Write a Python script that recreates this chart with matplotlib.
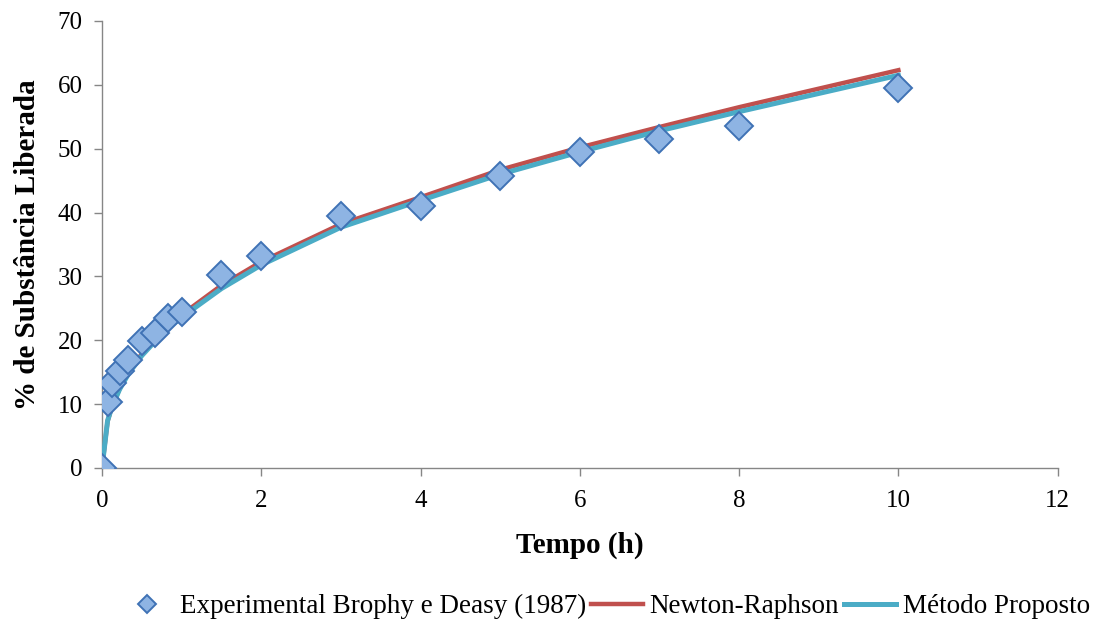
import numpy as np
import matplotlib.pyplot as plt

plt.rcParams['font.family'] = ['Liberation Serif', 'DejaVu Serif']

# experimental data (Brophy e Deasy, 1987)
t_exp = [0, 0.07, 0.12, 0.22, 0.33, 0.5, 0.67, 0.83, 1.0, 1.5, 2, 3, 4, 5, 6, 7, 8, 10]
y_exp = [0, 10.4, 13.3, 15.2, 16.9, 19.9, 21.2, 23.5, 24.5, 30.2, 33.2, 39.5, 41.1, 45.8, 49.5, 51.5, 53.6, 59.5]

# fitted curves read at the same times
y_newton = [0, 7.3, 9.4, 12.4, 14.9, 17.9, 20.3, 22.3, 24.0, 28.6, 32.3, 38.2, 42.4, 46.7, 50.2, 53.4, 56.5, 62.3]
y_proposto = [0, 7.4, 9.4, 12.3, 14.7, 17.6, 19.9, 21.9, 23.6, 28.1, 31.8, 37.7, 41.9, 46.0, 49.5, 52.8, 55.8, 61.5]

fig = plt.figure(figsize=(11.11, 6.23), dpi=100)
ax = fig.add_axes([0.0918, 0.2488, 0.8602, 0.7175])

ax.plot(t_exp, y_newton, color='#C0504D', lw=3.2, label='Newton-Raphson', zorder=2)
ax.plot(t_exp, y_proposto, color='#4BACC6', lw=3.6, label='Método Proposto', zorder=3)
ax.plot(t_exp, y_exp, linestyle='none', marker='D', markersize=14,
        markerfacecolor='#8EB4E3', markeredgecolor='#3F72B5', markeredgewidth=1.4,
        label='Experimental Brophy e Deasy (1987)', zorder=4)

ax.set_xlim(0, 12)
ax.set_ylim(0, 70)
ax.set_xticks(range(0, 13, 2))
ax.set_yticks(range(0, 71, 10))
ax.tick_params(labelsize=18, color='#868686', length=6, width=1)
ax.tick_params(axis='x', pad=10)
ax.tick_params(axis='y', pad=8)
for s in ['top', 'right']:
    ax.spines[s].set_visible(False)
for s in ['left', 'bottom']:
    ax.spines[s].set_color('#868686')
    ax.spines[s].set_linewidth(1)

ax.set_xlabel('Tempo (h)', fontsize=21, fontweight='bold', labelpad=14)
ax.set_ylabel('% de Substância Liberada', fontsize=21, fontweight='bold', labelpad=12)

h, l = ax.get_legend_handles_labels()
order = [2, 0, 1]
fig.legend([h[i] for i in order], [l[i] for i in order], loc='center',
           bbox_to_anchor=(0.545, 0.026), ncol=3, frameon=False, fontsize=19.5,
           handlelength=1.9, columnspacing=0.2, handletextpad=0.25, markerscale=0.65)

fig.savefig('out.png', dpi=100)
